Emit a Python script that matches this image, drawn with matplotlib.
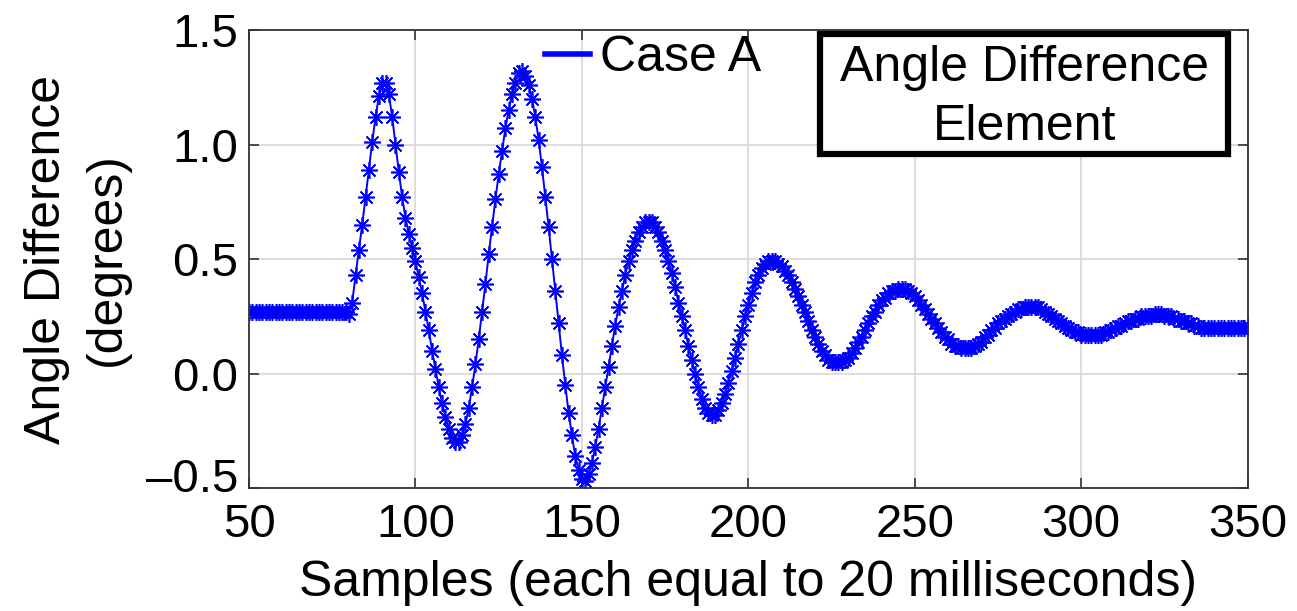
import matplotlib.pyplot as plt
from matplotlib.patches import Rectangle
from matplotlib.transforms import ScaledTranslation
import numpy as np

plt.rcParams['font.family'] = ['Liberation Sans', 'DejaVu Sans']

# samples 50..350 (one value per sample, 20 ms each)
samples = np.arange(50, 351)

# angle difference in degrees
pre_event = [0.27, 0.27, 0.27, 0.27, 0.27, 0.27, 0.27, 0.27, 0.27, 0.27,
             0.27, 0.27, 0.27, 0.27, 0.27, 0.27, 0.27, 0.27, 0.27, 0.27,
             0.27, 0.27, 0.27, 0.27, 0.27, 0.27, 0.27, 0.27, 0.27, 0.27]   # 50-79
swing = [
    0.26, 0.31, 0.43, 0.54, 0.65, 0.77, 0.89, 1.01, 1.12, 1.21,   # 80
    1.27, 1.27, 1.22, 1.12, 1.00, 0.88, 0.77, 0.68, 0.61, 0.55,   # 90
    0.49, 0.42, 0.35, 0.27, 0.19, 0.10, 0.02, -0.06, -0.13, -0.19,  # 100
    -0.24, -0.28, -0.30, -0.30, -0.27, -0.22, -0.15, -0.06, 0.04, 0.15,  # 110
    0.27, 0.39, 0.52, 0.64, 0.76, 0.87, 0.97, 1.07, 1.15, 1.22,   # 120
    1.27, 1.31, 1.32, 1.30, 1.26, 1.20, 1.12, 1.02, 0.90, 0.77,   # 130
    0.64, 0.50, 0.36, 0.22, 0.08, -0.05, -0.17, -0.27, -0.36, -0.42,  # 140
    -0.46, -0.47, -0.44, -0.39, -0.32, -0.24, -0.15, -0.06, 0.03, 0.12,  # 150
    0.21, 0.29, 0.36, 0.43, 0.49, 0.54, 0.58, 0.62, 0.64, 0.66,   # 160
    0.66, 0.66, 0.64, 0.62, 0.58, 0.54, 0.49, 0.44, 0.38, 0.31,   # 170
    0.25, 0.19, 0.12, 0.06, 0.00, -0.06, -0.11, -0.15, -0.17, -0.18,  # 180
    -0.18, -0.16, -0.13, -0.09, -0.04, 0.01, 0.07, 0.13, 0.19, 0.25,  # 190
    0.30, 0.35, 0.40, 0.43, 0.46, 0.48, 0.49, 0.49, 0.49, 0.48,   # 200
    0.47, 0.45, 0.43, 0.40, 0.37, 0.34, 0.30, 0.27, 0.23, 0.19,   # 210
    0.16, 0.13, 0.10, 0.08, 0.06, 0.05, 0.05, 0.05, 0.05, 0.06,   # 220
    0.07, 0.09, 0.11, 0.14, 0.16, 0.19, 0.22, 0.25, 0.27, 0.30,   # 230
    0.32, 0.33, 0.35, 0.36, 0.36, 0.37, 0.37, 0.37, 0.36, 0.35,   # 240
    0.34, 0.32, 0.30, 0.28, 0.26, 0.24, 0.22, 0.20, 0.18, 0.16,   # 250
    0.15, 0.13, 0.12, 0.12, 0.11, 0.11, 0.11, 0.11, 0.12, 0.13,   # 260
    0.14, 0.16, 0.17, 0.19, 0.20, 0.22, 0.23, 0.24, 0.25, 0.26,   # 270
    0.27, 0.28, 0.28, 0.29, 0.29, 0.29, 0.29, 0.29, 0.28, 0.27,   # 280
    0.26, 0.25, 0.24, 0.23, 0.22, 0.21, 0.20, 0.19, 0.18, 0.18,   # 290
    0.17, 0.17, 0.17, 0.17, 0.17, 0.17, 0.17, 0.18, 0.18, 0.19,   # 300
    0.20, 0.21, 0.21, 0.22, 0.23, 0.23, 0.24, 0.24, 0.25, 0.25,   # 310
    0.25, 0.25, 0.26, 0.26, 0.26, 0.25, 0.25, 0.25, 0.24, 0.24,   # 320
    0.23, 0.23, 0.22, 0.22, 0.21, 0.21, 0.20, 0.20, 0.20, 0.20,   # 330
    0.20, 0.20, 0.20, 0.20, 0.20, 0.20, 0.20, 0.20, 0.20, 0.20,   # 340
    0.21,                                                         # 350
]
angle_diff = np.array(pre_event + swing)

x_ticks = [50, 100, 150, 200, 250, 300, 350]
y_ticks = [-0.5, 0.0, 0.5, 1.0, 1.5]
y_ticklabels = ['\u20130.5', '0.0', '0.5', '1.0', '1.5']

FS = 34   # tick labels
FL = 36   # axis labels, legend, box text

fig = plt.figure(figsize=(12.97, 6.11), dpi=100)
ax = fig.add_axes([0.192, 0.201, 0.770, 0.750])

# asterisk marker at every sample
ax.plot(samples, angle_diff, color='#0000ff', lw=1.4, marker=(8, 2, 0),
        markersize=12, markeredgewidth=1.2)

ax.set_xlim(50, 350)
ax.set_ylim(-0.5, 1.5)
ax.set_xticks(x_ticks)
ax.set_yticks(y_ticks)
ax.set_yticklabels(y_ticklabels)
ax.tick_params(direction='in', top=True, right=True, labelsize=FS,
               length=7, width=1.2, color='#333333', pad=8)
ax.tick_params(axis='x', pad=11)
ax.grid(True, color='#dadada', lw=1.3)
ax.set_axisbelow(True)
for sp in ax.spines.values():
    sp.set_color('#333333')
    sp.set_linewidth(1.3)

# lift the lowest y label clear of the x labels
lowest = ax.yaxis.get_major_ticks()[0].label1
lowest.set_transform(lowest.get_transform()
                     + ScaledTranslation(0, 0.13, fig.dpi_scale_trans))

ax.set_xlabel('Samples (each equal to 20 milliseconds)', fontsize=FL, labelpad=9)
ax.set_ylabel('Angle Difference\n(degrees)', fontsize=FL, labelpad=11,
              linespacing=1.4)

# legend: plain line handle, no frame
h, = ax.plot([], [], color='#0000ff', lw=4)
fig.legend([h], ['Case A'], loc='center left', bbox_to_anchor=(0.420, 0.905),
           frameon=False, fontsize=FL, handlelength=0.9, handletextpad=0.2,
           borderpad=0, borderaxespad=0)

# boxed title in the upper right
fig.add_artist(Rectangle((0.632, 0.748), 0.315, 0.196, transform=fig.transFigure,
                         fc='white', ec='black', lw=4.5, zorder=5))
fig.text(0.790, 0.840, 'Angle Difference\nElement', ha='center', va='center',
         fontsize=FL, linespacing=1.36, zorder=6)

fig.savefig('out.png', dpi=100)
